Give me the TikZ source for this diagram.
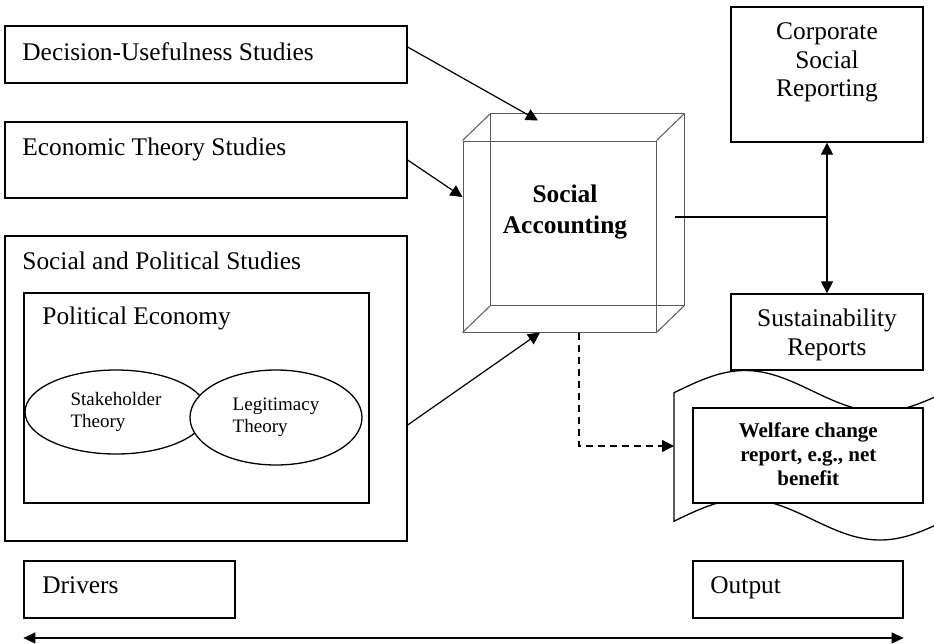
\documentclass[tikz,border=0pt]{standalone}
\usepackage{fontspec}
\setmainfont{Liberation Serif}
\usetikzlibrary{arrows.meta,fit,calc,shapes.geometric}
\begin{document}
\begin{tikzpicture}[x=0.5pt,y=-0.5pt,
  box/.style={draw, line width=0.65pt, fill=white, inner sep=0pt},
  big/.style={font=\fontsize{12.7}{14.25}\selectfont, inner sep=0pt},
  bigbold/.style={font=\fontsize{12.7}{15.5}\selectfont\bfseries, inner sep=0pt},
  small/.style={font=\fontsize{9.5}{11}\selectfont},
  tip/.style={Triangle[length=6pt,width=6pt]},
  conn/.style={line width=0.6pt, -{Triangle[length=6pt,width=6pt]}},
  cubeline/.style={draw=black!65, line width=0.5pt},
]
\useasboundingbox (0,0) rectangle (934,644);

% drivers on the left
\node[box, fit={(5,26)(407,83)}] (dus) {};
\node[big, anchor=base west] (dust) at (22,60) {Decision-Usefulness Studies};
\node[box, fit={(5,122)(407,198)}] (ets) {};
\node[big, anchor=base west] (etst) at (22,155) {Economic Theory Studies};
\node[box, fit={(5,236)(407,541)}] (sps) {};
\node[big, anchor=base west] (spst) at (22,269.5) {Social and Political Studies};
\node[box, fit={(24,293)(369,503)}] (pe) {};
\node[big, anchor=base west] (pet) at (42,324.5) {Political Economy};
\node[box, ellipse, minimum width=91pt, minimum height=42pt, align=left, small] (st) at (116,412) {Stakeholder\\Theory};
\node[box, ellipse, minimum width=86pt, minimum height=47.5pt, align=left, small] (lt) at (276,417.5) {Legitimacy\\Theory};

% transparent cube
\node[cubeline, fit={(463,141)(656,332)}, inner sep=0pt] (sa) {};
\draw[cubeline] ($(sa.south west)+(28,-27)$) rectangle ($(sa.north east)+(28,-27)$);
\foreach \a in {north west, north east, south west, south east}
  \draw[cubeline] (sa.\a) -- ++(28,-27);
\node[bigbold, align=center] (sat) at (565,211.6) {Social\\Accounting};

% outputs on the right
\node[box, fit={(731,7)(923,142)}] (csr) {};
\node[big, align=center] (csrt) at (827,62.6) {Corporate\\Social\\Reporting};
\node[box, fit={(731,294)(923,370)}] (sr) {};
\node[big, align=center, font=\fontsize{12.7}{14.5}\selectfont] (srt) at (827,334.6) {Sustainability\\Reports};

% wavy report sheet, running off the right edge
\begin{scope}
  \clip (0,0) rectangle (934,644);
  \draw[line width=0.65pt, fill=white]
    plot[domain=674:970, samples=80] (\x,{391-20.5*cos((\x-745)*4/3)})
    -- plot[domain=970:674, samples=80] (\x,{519.5-20.5*cos((\x-745)*4/3)})
    -- cycle;
\end{scope}
\node[box, fit={(693,408)(923,503)}] (wcr) {};
\node[font=\fontsize{10.5}{12}\selectfont\bfseries, align=center, inner sep=0pt] (wcrt) at (808.3,453.9) {Welfare change\\report, e.g., net\\benefit};

% timeline
\node[box, fit={(24,561)(235,618)}] (drv) {};
\node[big, anchor=base west] (drvt) at (42,593) {Drivers};
\node[box, fit={(693,561)(903,618)}] (out) {};
\node[big, anchor=base west] (outt) at (710,593) {Output};
\coordinate (axis) at (0,638);
\draw[line width=0.65pt, {Triangle[length=6pt,width=5.5pt]}-{Triangle[length=6pt,width=5.5pt]}]
  (drv.west |- axis) -- (out.east |- axis);

% connectors
\draw[conn] ($(dus.east)+(0,-7.5)$) -- ($(sa.north)+(-21.5,-20)$);
\draw[conn] (ets.east) -- ($(sa.west)+(0,-39.5)$);
\draw[conn] ($(sps.east)+(0,36.5)$) -- ($(sa.south)+(-19.5,0)$);

\coordinate (cs) at ($(sa.east)+(18,-19.5)$);
\coordinate (jn) at (cs -| csr.south);
\draw[line width=0.6pt] (cs) -- (jn);
\draw[conn] (jn) -- (csr.south);
\draw[conn] (jn) -- (sr.north);

\coordinate (docin) at (674,446);
\draw[conn, dash pattern=on 3.5pt off 2.5pt] ($(sa.south)+(19.5,0)$) |- (docin);
\end{tikzpicture}
\end{document}
